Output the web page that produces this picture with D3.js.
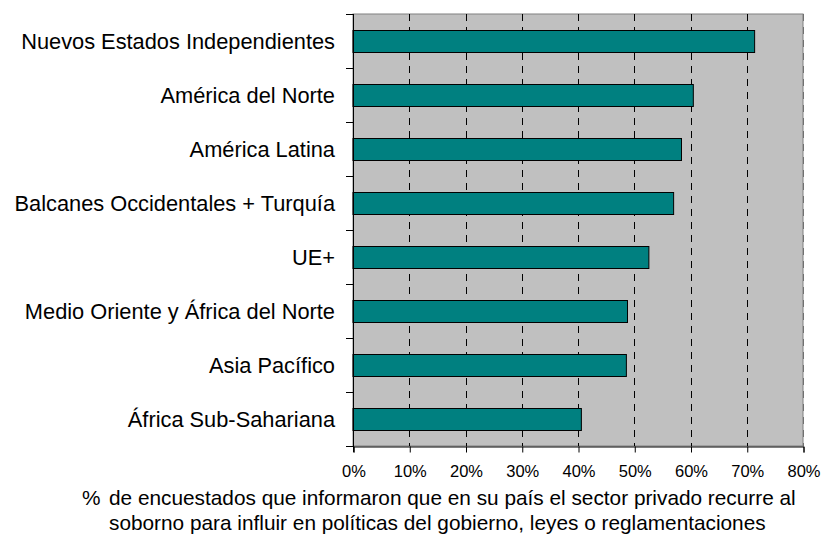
<!DOCTYPE html>
<html>
<head>
<meta charset="utf-8">
<script src="https://cdn.jsdelivr.net/npm/d3@7"></script>
<style>
  body { margin: 0; background: #fff; }
  text { font-family: "Liberation Sans", Arial, sans-serif; }
</style>
</head>
<body>
<svg id="chart" width="822" height="539"></svg>
<script>
const regions = ["Nuevos Estados Independientes", "América del Norte", "América Latina",
  "Balcanes Occidentales + Turquía", "UE+", "Medio Oriente y África del Norte",
  "Asia Pacífico", "África Sub-Sahariana"]
const values = [71.4, 60.5, 58.4, 57.0, 52.6, 48.8, 48.6, 40.6]
const ticks = [0, 10, 20, 30, 40, 50, 60, 70, 80]
const captionMark = "%"
const caption = ["de encuestados que informaron que en su país el sector privado recurre al",
  "soborno para influir en políticas del gobierno, leyes o reglamentaciones"]

const svg = d3.select("#chart")
const margin = { top: 14, left: 353, right: 19, bottom: 93 }
const innerW = 822 - margin.left - margin.right
const innerH = 539 - margin.top - margin.bottom

const g = svg.append("g").attr("transform", `translate(${margin.left},${margin.top})`)

const x = d3.scaleLinear().domain([0, 80]).range([0, innerW])
const y = d3.scaleBand().domain(regions).range([0, innerH]).paddingInner(0.59).paddingOuter(0.295)
const yb = d3.scaleBand().domain(regions).range([0, innerH])

// plot background
g.append("rect")
  .attr("width", innerW).attr("height", innerH)
  .attr("fill", "#c0c0c0").attr("stroke", "#808080").attr("stroke-width", 1)

// dashed gridlines
g.selectAll("line.grid")
  .data(ticks.slice(1))
  .enter().append("line")
  .attr("class", "grid")
  .attr("x1", d => Math.round(x(d)) + 0.5).attr("x2", d => Math.round(x(d)) + 0.5)
  .attr("y1", 0).attr("y2", innerH)
  .attr("stroke", d => d === 80 ? "#707070" : "#000")
  .attr("stroke-dasharray", "7,6")

// bars
g.selectAll("rect.bar")
  .data(regions)
  .enter().append("rect")
  .attr("class", "bar")
  .attr("x", 0)
  .attr("y", d => Math.round(y(d)) + 0.5)
  .attr("width", (d, i) => x(values[i]))
  .attr("height", Math.round(y.bandwidth()))
  .attr("fill", "#008080")
  .attr("stroke", "#000").attr("stroke-width", 1)

// y axis
const yAxisG = g.append("g")
yAxisG.append("line")
  .attr("x1", 0.5).attr("x2", 0.5).attr("y1", 0).attr("y2", innerH + 6)
  .attr("stroke", "#000")
yAxisG.selectAll("line.tk")
  .data(d3.range(regions.length + 1))
  .enter().append("line")
  .attr("x1", -7).attr("x2", 0)
  .attr("y1", d => Math.round(d * yb.step()) + 0.5)
  .attr("y2", d => Math.round(d * yb.step()) + 0.5)
  .attr("stroke", "#000")
yAxisG.selectAll("text")
  .data(regions)
  .enter().append("text")
  .attr("x", -18)
  .attr("y", d => yb(d) + yb.bandwidth() / 2 + 8)
  .attr("text-anchor", "end")
  .attr("font-size", 21.8)
  .attr("fill", "#000")
  .text(d => d)

// x axis
const xAxis = d3.axisBottom(x).tickValues(ticks).tickFormat(d => d + "%").tickSize(6).tickPadding(8)
const xAxisG = g.append("g")
  .attr("transform", `translate(0.5,${innerH + 0.5})`)
  .call(xAxis)
xAxisG.select(".domain").attr("stroke", "#000")
xAxisG.selectAll(".tick text")
  .attr("font-size", 16.5).attr("fill", "#000")
  .attr("y", 30.5).attr("dy", 0)
  .style("font-family", "'Liberation Sans', Arial, sans-serif")

// caption
svg.append("text")
  .attr("x", 82).attr("y", 505)
  .attr("font-size", 20.8).attr("fill", "#000")
  .text(captionMark)
svg.selectAll("text.cap")
  .data(caption)
  .enter().append("text")
  .attr("class", "cap")
  .attr("x", 109)
  .attr("y", (d, i) => 505 + i * 24.5)
  .attr("font-size", 20.8)
  .attr("fill", "#000")
  .text(d => d)
</script>
</body>
</html>
